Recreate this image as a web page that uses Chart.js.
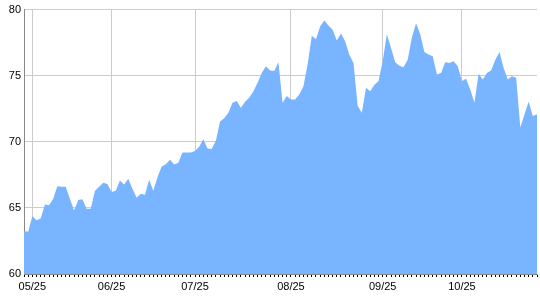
<!DOCTYPE html>
<html lang="en">
<head>
    <meta charset="UTF-8">
    <title>Area chart</title>
    <script src="https://cdn.jsdelivr.net/npm/chart.js"></script>
    <style>
        html, body { margin: 0; padding: 0; background: #fff; }
        #wrap { width: 540px; height: 300px; position: relative; }
    </style>
</head>
<body>
    <div id="wrap"><canvas id="areaChart"></canvas></div>

    <script>
        // values, one per trading day
        const values = [
            63.26, 63.2, 64.36, 64.06, 64.2, 65.26, 65.2, 65.7, 66.64, 66.6,
            66.6, 65.7, 64.8, 65.6, 65.65, 64.94, 64.94, 66.27, 66.6, 66.9,
            66.8, 66.2, 66.3, 67.07, 66.77, 67.2, 66.44, 65.77, 66.07, 66.0,
            67.12, 66.3, 67.32, 68.14, 68.3, 68.65, 68.28, 68.42, 69.2, 69.2,
            69.2, 69.3, 69.62, 70.2, 69.5, 69.45, 70.08, 71.53, 71.78, 72.2,
            72.96, 73.08, 72.58, 73.03, 73.33, 73.83, 74.46, 75.2, 75.71, 75.4,
            75.36, 76.02, 72.96, 73.46, 73.2, 73.2, 73.58, 74.2, 75.84, 78.02,
            77.75, 78.72, 79.17, 78.8, 78.47, 77.67, 78.2, 77.6, 76.59, 75.96,
            72.7, 72.2, 74.08, 73.83, 74.29, 74.59, 76.09, 78.14, 77.09, 76.02,
            75.76, 75.64, 76.2, 77.89, 78.97, 78.14, 76.79, 76.6, 76.47, 75.09,
            75.2, 76.02, 75.96, 76.09, 75.71, 74.59, 74.76, 73.96, 72.96, 75.14,
            74.71, 75.2, 75.4, 76.2, 76.79, 75.59, 74.71, 74.96, 74.84, 71.08,
            72.08, 73.03, 71.95, 72.08
        ];

        // month ticks: which point each label sits on
        const monthIndex = [2, 21, 41, 64, 86, 105];
        const monthLabels = ["05/25", "06/25", "07/25", "08/25", "09/25", "10/25"];

        const yTicks = [60, 65, 70, 75, 80];

        const labels = values.map((v, i) => i);

        function monthLabel(i) {
            const k = monthIndex.indexOf(i);
            return k >= 0 ? monthLabels[k] : "";
        }

        const ctx = document.getElementById("areaChart").getContext("2d");
        new Chart(ctx, {
            type: "line",
            data: {
                labels: labels,
                datasets: [{
                    data: values,
                    fill: "start",
                    backgroundColor: "#78b4ff",
                    borderWidth: 0,
                    pointRadius: 0,
                    tension: 0
                }]
            },
            options: {
                responsive: true,
                maintainAspectRatio: false,
                animation: false,
                layout: { padding: { top: 8, right: 0, left: 0, bottom: 0 } },
                plugins: {
                    legend: { display: false },
                    tooltip: { enabled: false }
                },
                scales: {
                    x: {
                        offset: false,
                        grid: {
                            color: c => monthIndex.includes(c.index) ? "#cccccc" : "rgba(0,0,0,0)",
                            tickColor: "#000",
                            tickLength: 3
                        },
                        border: { color: "#888" },
                        ticks: {
                            autoSkip: false,
                            maxRotation: 0,
                            padding: 3,
                            color: "#000",
                            font: { family: "Liberation Sans, Arial", size: 11 },
                            callback: (v, i) => monthLabel(i)
                        },
                        afterFit: s => { s.height = 26; }
                    },
                    y: {
                        min: 60,
                        max: 80,
                        afterBuildTicks: s => { s.ticks = yTicks.map(v => ({ value: v })); },
                        grid: { color: "#cccccc", drawTicks: false },
                        border: { color: "#888" },
                        ticks: {
                            padding: 3,
                            color: "#000",
                            font: { family: "Liberation Sans, Arial", size: 11 }
                        },
                        afterFit: s => { s.width = 24; }
                    }
                }
            }
        });
    </script>
</body>
</html>
